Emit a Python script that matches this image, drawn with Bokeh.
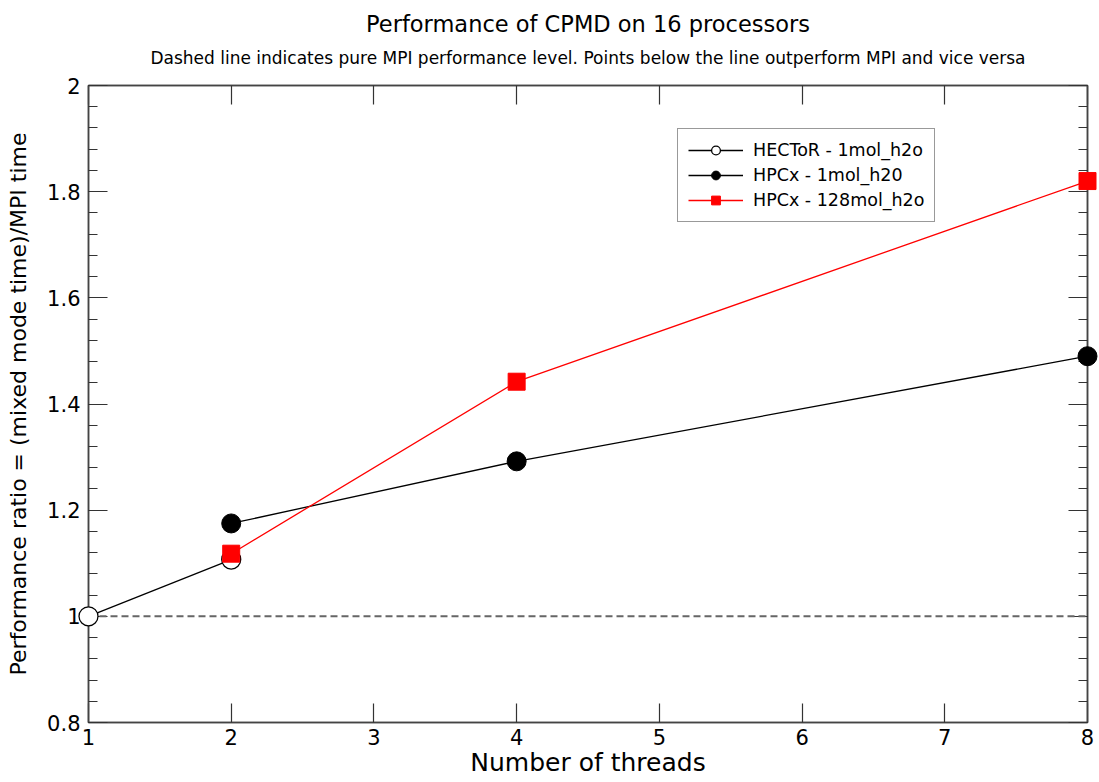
from bokeh.plotting import figure
from bokeh.models import (Range1d, LinearAxis, FixedTicker, CustomJSTickFormatter,
                          Span, Legend, LegendItem, Title)
from bokeh.embed import file_html
from bokeh.resources import INLINE
import numpy as np

# Performance ratio (mixed mode time / MPI time) against number of threads
threads_hector = [1, 2]
ratio_hector_1mol = [1.0, 1.107]

threads_hpcx = [2, 4, 8]
ratio_hpcx_1mol = [1.175, 1.292, 1.49]
ratio_hpcx_128mol = [1.118, 1.442, 1.82]

x_ticks = [1, 2, 3, 4, 5, 6, 7, 8]
y_ticks = [0.8, 1.0, 1.2, 1.4, 1.6, 1.8, 2.0]
y_minor = [round(v, 2) for v in np.arange(0.8, 2.0001, 0.04)]

FONT = "DejaVu Sans"
FRAME = "#444444"

p = figure(width=1099, height=782, output_backend="svg", toolbar_location=None,
           x_range=Range1d(1, 8), y_range=Range1d(0.8, 2.0),
           x_axis_type=None, y_axis_type=None,
           min_border_left=88, min_border_right=12,
           min_border_top=85, min_border_bottom=60)
p.outline_line_color = FRAME
p.outline_line_width = 1.5
p.background_fill_color = "white"
p.border_fill_color = "white"

fmt = CustomJSTickFormatter(code="return (Math.round(tick*10)/10).toString()")
blank = CustomJSTickFormatter(code="return ''")


def style_axis(ax):
    ax.axis_line_color = FRAME
    ax.axis_line_width = 1.5
    ax.major_tick_in = 19
    ax.major_tick_out = 0
    ax.minor_tick_in = 9
    ax.minor_tick_out = 0
    ax.major_tick_line_color = "#333333"
    ax.minor_tick_line_color = "#333333"
    ax.major_tick_line_width = 1.2
    ax.minor_tick_line_width = 1.2
    ax.major_label_text_font = FONT
    ax.major_label_text_font_size = "21px"
    ax.major_label_text_color = "black"
    ax.axis_label_text_font = FONT
    ax.axis_label_text_font_size = "25px"
    ax.axis_label_text_font_style = "normal"
    ax.axis_label_text_color = "black"


x_ticker = FixedTicker(ticks=x_ticks, minor_ticks=[])
y_ticker = FixedTicker(ticks=y_ticks, minor_ticks=y_minor)

xb = LinearAxis(ticker=x_ticker, axis_label="Number of threads")
style_axis(xb)
xb.major_label_standoff = 6
xb.axis_label_standoff = 0
p.add_layout(xb, "below")

yl = LinearAxis(ticker=y_ticker, formatter=fmt,
                axis_label="Performance ratio = (mixed mode time)/MPI time")
style_axis(yl)
yl.axis_label_text_font_size = "22px"
yl.major_label_standoff = 8
yl.axis_label_standoff = 13
p.add_layout(yl, "left")

# top axis carries the explanatory subtitle as its label
xt = LinearAxis(ticker=x_ticker, formatter=blank,
                axis_label="Dashed line indicates pure MPI performance level. "
                           "Points below the line outperform MPI and vice versa")
style_axis(xt)
xt.axis_label_text_font_size = "17px"
xt.major_label_standoff = 0
xt.axis_label_standoff = 18
p.add_layout(xt, "above")

yr = LinearAxis(ticker=y_ticker, formatter=blank)
style_axis(yr)
yr.major_label_standoff = 0
p.add_layout(yr, "right")

title = Title(text="Performance of CPMD on 16 processors", align="center",
              text_font=FONT, text_font_size="22.5px", text_font_style="normal",
              text_color="black")
if "standoff" in Title.properties():
    title.standoff = 15
p.add_layout(title, "above")

# pure MPI reference level
p.add_layout(Span(location=1.0, dimension="width", line_color="#666666",
                  line_width=2, line_dash="7 4"))

l1 = p.line(threads_hector, ratio_hector_1mol, line_color="black", line_width=1.3)
l2 = p.line(threads_hpcx, ratio_hpcx_1mol, line_color="black", line_width=1.3)
l3 = p.line(threads_hpcx, ratio_hpcx_128mol, line_color="#ff0000", line_width=1.3)

m1 = p.scatter(threads_hector, ratio_hector_1mol, marker="circle", size=19,
               fill_color="white", line_color="black", line_width=1.3, level="overlay")
m2 = p.scatter(threads_hpcx, ratio_hpcx_1mol, marker="circle", size=19,
               fill_color="black", line_color="black", level="overlay")
m3 = p.scatter(threads_hpcx, ratio_hpcx_128mol, marker="square", size=17,
               fill_color="#ff0000", line_color="#ff0000", level="overlay")

legend = Legend(items=[
    LegendItem(label="HECToR - 1mol_h2o", renderers=[l1, m1]),
    LegendItem(label="HPCx - 1mol_h20", renderers=[l2, m2]),
    LegendItem(label="HPCx - 128mol_h2o", renderers=[l3, m3]),
], location=(589, 500))
legend.label_text_font = FONT
legend.label_text_font_size = "17.5px"
legend.label_text_color = "black"
legend.glyph_width = 55
legend.glyph_height = 22
legend.label_height = 22
legend.label_standoff = 10
legend.spacing = 3
legend.padding = 10
legend.margin = 0
legend.border_line_color = "#333333"
legend.border_line_width = 1
legend.background_fill_alpha = 1
p.add_layout(legend, "center")

open("out.html", "w").write(file_html(p, INLINE))
